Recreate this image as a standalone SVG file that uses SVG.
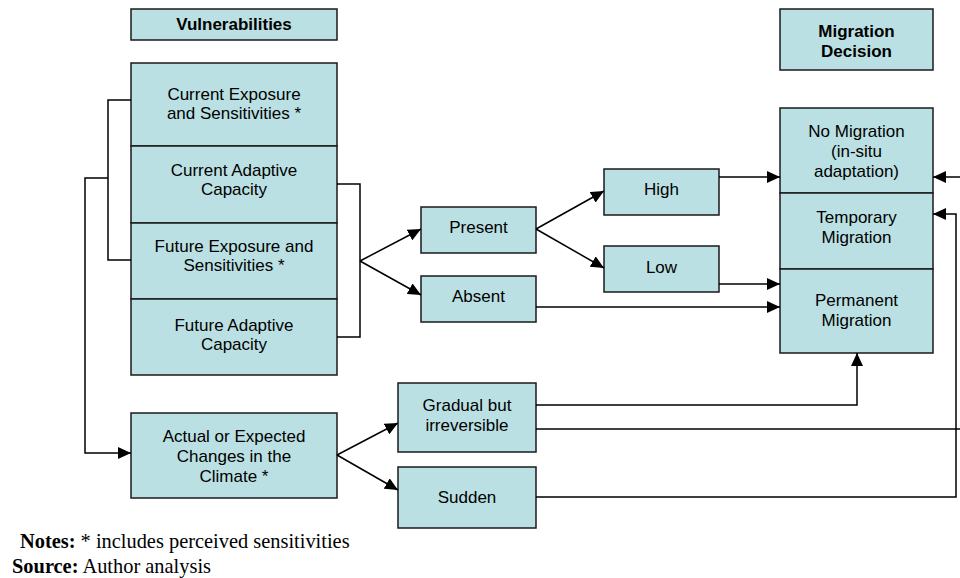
<svg xmlns="http://www.w3.org/2000/svg" width="960" height="578" viewBox="0 0 960 578">
<defs>
<marker id="ah" markerUnits="userSpaceOnUse" markerWidth="14" markerHeight="12" refX="13" refY="6" orient="auto">
<path d="M0,0 L13,6 L0,12 Z" fill="#000"/>
</marker>
<style>
.box{fill:#BBE0E3;stroke:#1a1a1a;stroke-width:1.5}
.t{font-family:"Liberation Sans",Arial,sans-serif;font-size:17px;fill:#000;text-anchor:middle}
.b{font-weight:bold}
.ln{fill:none;stroke:#000;stroke-width:1.5}
.arr{fill:none;stroke:#000;stroke-width:1.5;marker-end:url(#ah)}
.n{font-family:"Liberation Serif","Times New Roman",serif;font-size:20.4px;fill:#000}
</style>
</defs>
<rect width="960" height="578" fill="#fff"/>
<g id="vulnerabilities">
<rect class="box" x="131" y="9" width="206" height="31"/>
<text class="t b" x="234" y="30">Vulnerabilities</text>
</g>
<g id="current-exposure">
<rect class="box" x="131" y="63" width="206" height="83"/>
<text class="t" x="234" y="100">Current Exposure</text>
<text class="t" x="234" y="119">and Sensitivities *</text>
</g>
<g id="current-adaptive">
<rect class="box" x="131" y="146" width="206" height="77"/>
<text class="t" x="234" y="176">Current Adaptive</text>
<text class="t" x="234" y="195">Capacity</text>
</g>
<g id="future-exposure">
<rect class="box" x="131" y="223" width="206" height="76"/>
<text class="t" x="234" y="252">Future Exposure and</text>
<text class="t" x="234" y="271">Sensitivities *</text>
</g>
<g id="future-adaptive">
<rect class="box" x="131" y="299" width="206" height="76"/>
<text class="t" x="234" y="331">Future Adaptive</text>
<text class="t" x="234" y="350">Capacity</text>
</g>
<g id="climate">
<rect class="box" x="131" y="413" width="206" height="85"/>
<text class="t" x="234" y="442">Actual or Expected</text>
<text class="t" x="234" y="462">Changes in the</text>
<text class="t" x="234" y="482">Climate *</text>
</g>
<g id="present">
<rect class="box" x="421" y="207" width="115" height="46"/>
<text class="t" x="478.5" y="233">Present</text>
</g>
<g id="absent">
<rect class="box" x="421" y="276" width="115" height="46"/>
<text class="t" x="478.5" y="302">Absent</text>
</g>
<g id="high">
<rect class="box" x="604" y="169" width="115" height="46"/>
<text class="t" x="661.5" y="195">High</text>
</g>
<g id="low">
<rect class="box" x="604" y="246" width="115" height="46"/>
<text class="t" x="661.5" y="273">Low</text>
</g>
<g id="gradual">
<rect class="box" x="398" y="383" width="138" height="69"/>
<text class="t" x="467" y="411">Gradual but</text>
<text class="t" x="467" y="431">irreversible</text>
</g>
<g id="sudden">
<rect class="box" x="398" y="467" width="138" height="61"/>
<text class="t" x="467" y="503">Sudden</text>
</g>
<g id="migration-decision">
<rect class="box" x="780" y="9" width="153" height="61"/>
<text class="t b" x="856.5" y="37">Migration</text>
<text class="t b" x="856.5" y="57">Decision</text>
</g>
<g id="no-migration">
<rect class="box" x="780" y="108" width="153" height="85"/>
<text class="t" x="856.5" y="137">No Migration</text>
<text class="t" x="856.5" y="157">(in-situ</text>
<text class="t" x="856.5" y="177">adaptation)</text>
</g>
<g id="temporary">
<rect class="box" x="780" y="193" width="153" height="76"/>
<text class="t" x="856.5" y="223">Temporary</text>
<text class="t" x="856.5" y="243">Migration</text>
</g>
<g id="permanent">
<rect class="box" x="780" y="269" width="153" height="84"/>
<text class="t" x="856.5" y="306">Permanent</text>
<text class="t" x="856.5" y="326">Migration</text>
</g>
<g id="connectors">
<polyline class="ln" points="131,100 108,100 108,260 131,260"/>
<polyline class="arr" points="108,178 85,178 85,453 131,453"/>
<polyline class="ln" points="337,184 360,184 360,337 337,337"/>
<line class="arr" x1="360" y1="261" x2="421" y2="229"/>
<line class="arr" x1="360" y1="261" x2="421" y2="295"/>
<line class="arr" x1="536" y1="229" x2="604" y2="191"/>
<line class="arr" x1="536" y1="229" x2="604" y2="268"/>
<line class="arr" x1="719" y1="177" x2="780" y2="177"/>
<line class="arr" x1="719" y1="284" x2="780" y2="284"/>
<line class="arr" x1="536" y1="307" x2="780" y2="307"/>
<line class="arr" x1="337" y1="455" x2="398" y2="423"/>
<line class="arr" x1="337" y1="455" x2="398" y2="490"/>
<polyline class="arr" points="536,405 857,405 857,353"/>
<line class="ln" x1="536" y1="429" x2="960" y2="429"/>
<polyline class="arr" points="536,497 956,497 956,214 933,214"/>
<line class="arr" x1="960" y1="177" x2="933" y2="177"/>
</g>
<g id="notes">
<text class="n" x="20" y="548"><tspan font-weight="bold">Notes:</tspan> * includes perceived sensitivities</text>
<text class="n" x="12" y="573"><tspan font-weight="bold">Source:</tspan> Author analysis</text>
</g>
</svg>
